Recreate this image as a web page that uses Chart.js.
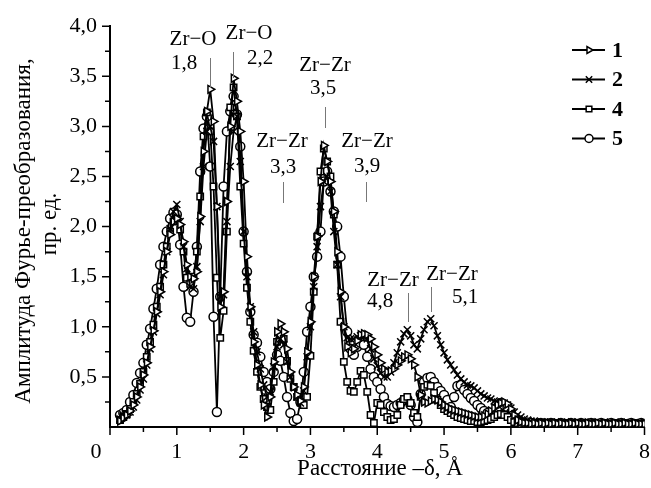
<!DOCTYPE html>
<html>
<head>
<meta charset="utf-8">
<script src="https://cdn.jsdelivr.net/npm/chart.js@4.4.1/dist/chart.umd.min.js"></script>
<style>
  body { margin: 0; background: #fff; }
  canvas { display: block; }
</style>
</head>
<body>
<canvas id="rdfChart" width="651" height="488"></canvas>
<script>
// distance, Å
const distance = [
  0.15, 0.2, 0.25, 0.3, 0.35, 0.4, 0.45, 0.5, 0.55, 0.6, 0.65, 0.7, 0.75, 0.8, 0.85, 0.9, 0.95,
  1.0, 1.05, 1.1, 1.15, 1.2, 1.25, 1.3, 1.35, 1.4, 1.45, 1.5, 1.55, 1.6, 1.65, 1.7, 1.75, 1.8, 1.85, 1.9, 1.95,
  2.0, 2.05, 2.1, 2.15, 2.2, 2.25, 2.3, 2.35, 2.4, 2.45, 2.5, 2.55, 2.6, 2.65, 2.7, 2.75, 2.8, 2.85, 2.9, 2.95,
  3.0, 3.05, 3.1, 3.15, 3.2, 3.25, 3.3, 3.35, 3.4, 3.45, 3.5, 3.55, 3.6, 3.65, 3.7, 3.75, 3.8, 3.85, 3.9, 3.95,
  4.0, 4.05, 4.1, 4.15, 4.2, 4.25, 4.3, 4.35, 4.4, 4.45, 4.5, 4.55, 4.6, 4.65, 4.7, 4.75, 4.8, 4.85, 4.9, 4.95,
  5.0, 5.05, 5.1, 5.15, 5.2, 5.25, 5.3, 5.35, 5.4, 5.45, 5.5, 5.55, 5.6, 5.65, 5.7, 5.75, 5.8, 5.85, 5.9, 5.95,
  6.0, 6.05, 6.1, 6.15, 6.2, 6.25, 6.3, 6.35, 6.4, 6.45, 6.5,
  6.55, 6.6, 6.65, 6.7, 6.75, 6.8, 6.85, 6.9, 6.95, 7.0, 7.05, 7.1, 7.15, 7.2, 7.25,
  7.3, 7.35, 7.4, 7.45, 7.5, 7.55, 7.6, 7.65, 7.7, 7.75, 7.8, 7.85, 7.9, 7.95, 8.0
];

// sample 1 (triangles)
const sample1 = [
  0.06, 0.09, 0.12, 0.16, 0.22, 0.30, 0.40, 0.52, 0.64, 0.80, 0.96, 1.15, 1.35, 1.55, 1.75, 1.92, 2.05,
  2.08, 2.02, 1.85, 1.62, 1.50, 1.48, 1.55, 2.10, 2.75, 3.15, 3.37, 3.05, 2.20, 1.20, 1.35, 2.25, 3.00, 3.48, 3.25, 2.95,
  2.45, 1.70, 1.20, 0.85, 0.62, 0.42, 0.22, 0.10, 0.30, 0.65, 0.95, 1.03, 0.95, 0.78, 0.55, 0.40, 0.32, 0.26, 0.40, 0.75,
  1.05, 1.50, 1.90, 2.45, 2.81, 2.65, 2.45, 2.15, 1.75, 1.35, 1.00, 0.80, 0.74, 0.78, 0.86, 0.92, 0.93, 0.92, 0.88, 0.80,
  0.72, 0.64, 0.58, 0.55, 0.56, 0.58, 0.62, 0.66, 0.70, 0.72, 0.68, 0.62, 0.50, 0.32, 0.25, 0.24, 0.26, 0.28, 0.27, 0.25,
  0.22, 0.20, 0.18, 0.17, 0.16, 0.15, 0.14, 0.13, 0.12, 0.11, 0.10, 0.10, 0.11, 0.13, 0.16, 0.19, 0.22, 0.24, 0.25, 0.23,
  0.18, 0.12, 0.07, 0.05, 0.04, 0.04, 0.03, 0.04, 0.03, 0.04, 0.03,
  0.04, 0.03, 0.04, 0.03, 0.04, 0.03, 0.03, 0.04, 0.03, 0.04, 0.03, 0.03, 0.04, 0.03, 0.03,
  0.04, 0.03, 0.04, 0.03, 0.03, 0.04, 0.03, 0.03, 0.04, 0.03, 0.03, 0.04, 0.03, 0.03, 0.03
];

// sample 2 (crosses)
const sample2 = [
  0.08, 0.12, 0.12, 0.15, 0.20, 0.27, 0.37, 0.48, 0.62, 0.78, 0.95, 1.13, 1.32, 1.52, 1.75, 1.98, 2.15,
  2.22, 2.05, 1.80, 1.58, 1.40, 1.38, 1.60, 2.05, 2.60, 2.95, 3.00, 2.85, 2.20, 1.30, 1.32, 2.05, 2.60, 2.95, 3.10, 2.65,
  1.95, 1.50, 1.20, 0.95, 0.75, 0.58, 0.42, 0.30, 0.35, 0.60, 0.80, 0.88, 0.82, 0.65, 0.50, 0.40, 0.30, 0.24, 0.36, 0.70,
  1.00, 1.40, 1.80, 2.20, 2.45, 2.50, 2.35, 1.95, 1.62, 1.30, 1.00, 0.89, 0.88, 0.88, 0.90, 0.91, 0.90, 0.88, 0.78, 0.68,
  0.61, 0.54, 0.50, 0.50, 0.55, 0.64, 0.74, 0.85, 0.93, 0.97, 0.91, 0.82, 0.78, 0.88, 0.97, 1.05, 1.08, 1.01, 0.91, 0.82,
  0.74, 0.67, 0.62, 0.57, 0.52, 0.48, 0.45, 0.42, 0.41, 0.39, 0.36, 0.33, 0.31, 0.29, 0.28, 0.26, 0.25, 0.24, 0.24, 0.22,
  0.19, 0.15, 0.12, 0.10, 0.08, 0.07, 0.06, 0.06, 0.05, 0.05, 0.05,
  0.05, 0.05, 0.04, 0.05, 0.04, 0.04, 0.05, 0.04, 0.04, 0.05, 0.04, 0.04, 0.04, 0.05, 0.04,
  0.04, 0.04, 0.05, 0.04, 0.04, 0.04, 0.04, 0.05, 0.04, 0.04, 0.04, 0.04, 0.04, 0.04, 0.04
];

// sample 4 (squares)
const sample4 = [
  0.07, 0.10, 0.13, 0.18, 0.25, 0.33, 0.43, 0.55, 0.70, 0.85, 1.02, 1.20, 1.40, 1.62, 1.80, 1.95, 2.05,
  2.08, 1.97, 1.75, 1.49, 1.43, 1.50, 1.75, 2.30, 2.90, 3.14, 2.95, 2.40, 1.49, 0.89, 1.16, 1.95, 3.19, 3.39, 3.10, 2.40,
  1.83, 1.39, 1.05, 0.76, 0.55, 0.40, 0.28, 0.20, 0.17, 0.45, 0.85, 0.92, 0.88, 0.66, 0.48, 0.40, 0.30, 0.25, 0.22, 0.30,
  0.71, 1.35, 1.90, 2.55, 2.78, 2.65, 2.50, 2.12, 1.62, 1.05, 0.65, 0.45, 0.36, 0.35, 0.45, 0.56, 0.52, 0.35, 0.12, 0.04,
  0.24, 0.22, 0.15, 0.10, 0.07, 0.08, 0.12, 0.22, 0.28, 0.30, 0.24, 0.14, 0.10, 0.30, 0.40, 0.42, 0.41, 0.34, 0.27, 0.22,
  0.18, 0.16, 0.14, 0.12, 0.10, 0.09, 0.08, 0.07, 0.06, 0.06, 0.05, 0.05, 0.06, 0.07, 0.08, 0.10, 0.12, 0.13, 0.12, 0.10,
  0.07, 0.05, 0.04, 0.03, 0.03, 0.03, 0.03, 0.03, 0.03, 0.03, 0.03,
  0.03, 0.03, 0.03, 0.03, 0.03, 0.03, 0.03, 0.03, 0.03, 0.03, 0.03, 0.03, 0.03, 0.03, 0.03,
  0.03, 0.03, 0.03, 0.03, 0.03, 0.03, 0.03, 0.03, 0.03, 0.03, 0.03, 0.03, 0.03, 0.03, 0.03
];

// sample 5 (circles)
const sample5 = [
  0.12, 0.14, 0.17, 0.25, 0.32, 0.44, 0.54, 0.64, 0.82, 0.98, 1.18, 1.38, 1.62, 1.80, 1.95, 2.08, 2.14,
  2.12, 1.82, 1.40, 1.09, 1.05, 1.35, 1.80, 2.55, 2.98, 3.10, 2.60, 1.10, 0.15, 1.30, 2.40, 2.95, 3.15, 3.30, 3.12, 2.80,
  1.95, 1.55, 1.15, 0.92, 0.84, 0.70, 0.55, 0.45, 0.38, 0.55, 0.72, 0.66, 0.50, 0.30, 0.14, 0.06, 0.08, 0.25, 0.55, 0.95,
  1.20, 1.50, 1.70, 1.95, 2.45, 2.55, 2.35, 2.15, 2.00, 1.70, 1.30, 0.95, 0.78, 0.72, 0.80, 0.84, 0.82, 0.70, 0.58, 0.50,
  0.45, 0.38, 0.30, 0.23, 0.21, 0.20, 0.22, 0.24, 0.27, 0.28, 0.22, 0.10, 0.05, 0.33, 0.45, 0.49, 0.50, 0.45, 0.40, 0.36,
  0.32, 0.27, 0.20, 0.30, 0.41, 0.42, 0.37, 0.33, 0.29, 0.26, 0.22, 0.19, 0.16, 0.14, 0.12, 0.14, 0.20, 0.24, 0.22, 0.20,
  0.14, 0.08, 0.05, 0.04, 0.04, 0.03, 0.04, 0.03, 0.03, 0.04, 0.03,
  0.03, 0.04, 0.03, 0.03, 0.04, 0.03, 0.03, 0.04, 0.03, 0.03, 0.04, 0.03, 0.03, 0.04, 0.03,
  0.03, 0.04, 0.03, 0.03, 0.04, 0.03, 0.03, 0.04, 0.03, 0.03, 0.04, 0.03, 0.03, 0.04, 0.03
];

const seriesNames = ["1", "2", "4", "5"];
const xTickLabels = ["0", "1", "2", "3", "4", "5", "6", "7", "8"];

const peakNotes = [
  { l1: "Zr−O", l2: "1,8" },
  { l1: "Zr−O", l2: "2,2" },
  { l1: "Zr−Zr", l2: "3,5" },
  { l1: "Zr−Zr", l2: "3,3" },
  { l1: "Zr−Zr", l2: "3,9" },
  { l1: "Zr−Zr", l2: "4,8" },
  { l1: "Zr−Zr", l2: "5,1" }
];

const serif = "'Liberation Serif', 'Times New Roman', serif";

function toPoints(arr) {
  return arr.map((v, i) => ({ x: distance[i], y: v }));
}

const styles = [
  { pointStyle: "triangle", rotation: 90, radius: 4.5 },
  { pointStyle: "crossRot", rotation: 0, radius: 5 },
  { pointStyle: "rect", rotation: 0, radius: 4.5 },
  { pointStyle: "circle", rotation: 0, radius: 4.5 }
];

const datasets = [sample1, sample2, sample4, sample5].map((arr, i) => ({
  label: seriesNames[i],
  data: toPoints(arr),
  borderColor: "#000",
  borderWidth: 1.8,
  backgroundColor: "#fff",
  pointBorderColor: "#000",
  pointBackgroundColor: "#fff",
  pointBorderWidth: 1.5,
  pointStyle: styles[i].pointStyle,
  pointRotation: styles[i].rotation,
  pointRadius: styles[i].radius,
  tension: 0
}));

// axis ticks, texts, notes and legend
const decor = {
  id: "decor",
  afterDraw(chart) {
    const { ctx, scales: { x, y } } = chart;
    ctx.save();
    ctx.strokeStyle = "#000";
    ctx.lineWidth = 1.5;
    ctx.beginPath();
    for (let i = 0; i <= 16; i++) {
      const px = x.getPixelForValue(i / 2);
      ctx.moveTo(px, y.bottom);
      ctx.lineTo(px, y.bottom + (i % 2 === 0 ? 8 : 5));
    }
    for (let i = 1; i <= 16; i++) {
      const py = y.getPixelForValue(i / 4);
      ctx.moveTo(x.left, py);
      ctx.lineTo(x.left - (i % 2 === 0 ? 8 : 5), py);
    }
    ctx.stroke();

    // x tick labels
    ctx.fillStyle = "#000";
    ctx.font = "22px " + serif;
    ctx.textAlign = "center";
    ctx.textBaseline = "middle";
    xTickLabels.forEach((t, i) => {
      const px = i === 0 ? 96 : x.getPixelForValue(i);
      ctx.fillText(t, px, 452);
    });

    // axis titles
    ctx.font = "23px " + serif;
    ctx.fillText("Расстояние –δ, Å", 380, 469);
    ctx.save();
    ctx.translate(24, 231);
    ctx.rotate(-Math.PI / 2);
    ctx.fillText("Амплитуда Фурье-преобразования,", 0, 0);
    ctx.restore();
    ctx.save();
    ctx.translate(50, 224);
    ctx.rotate(-Math.PI / 2);
    ctx.fillText("пр. ед.", 0, 0);
    ctx.restore();

    // peak notes
    const pos = [
      { a: [193, 39], b: [184, 63], line: [210, 58, 88] },
      { a: [249, 33], b: [260, 58], line: [233, 52, 78] },
      { a: [325, 65], b: [323, 88], line: [325, 107, 128] },
      { a: [282, 141], b: [283, 167], line: [283, 182, 203] },
      { a: [367, 141], b: [367, 166], line: [366, 182, 202] },
      { a: [393, 280], b: [380, 301], line: [408, 293, 322] },
      { a: [452, 274], b: [465, 297], line: [431, 287, 312] }
    ];
    ctx.font = "21px " + serif;
    peakNotes.forEach((n, i) => {
      const p = pos[i];
      ctx.fillText(n.l1, p.a[0], p.a[1]);
      ctx.fillText(n.l2, p.b[0], p.b[1]);
      ctx.strokeStyle = "#777";
      ctx.lineWidth = 1;
      ctx.beginPath();
      ctx.moveTo(p.line[0] + 0.5, p.line[1]);
      ctx.lineTo(p.line[0] + 0.5, p.line[2]);
      ctx.stroke();
    });

    // legend
    chart.data.datasets.forEach((ds, i) => {
      const ly = 50 + i * 29.5;
      ctx.strokeStyle = "#000";
      ctx.lineWidth = 2;
      ctx.beginPath();
      ctx.moveTo(572, ly);
      ctx.lineTo(605, ly);
      ctx.stroke();
      ctx.fillStyle = "#fff";
      ctx.lineWidth = 1.5;
      Chart.helpers.drawPoint(ctx, {
        pointStyle: ds.pointStyle,
        rotation: ds.pointRotation,
        radius: ds.pointRadius - 0.5,
        borderWidth: 1.5
      }, 589, ly);
      ctx.fillStyle = "#000";
      ctx.font = "bold 22px " + serif;
      ctx.textAlign = "left";
      ctx.fillText(ds.label, 612, ly + 1);
      ctx.textAlign = "center";
    });
    ctx.restore();
  }
};

new Chart(document.getElementById("rdfChart").getContext("2d"), {
  type: "line",
  data: { datasets: datasets },
  options: {
    responsive: false,
    animation: false,
    layout: { padding: { left: 0, right: 6, top: 24, bottom: 0 } },
    plugins: {
      legend: { display: false },
      tooltip: { enabled: false }
    },
    scales: {
      x: {
        type: "linear",
        min: 0,
        max: 8,
        afterFit: (scale) => { scale.height = 61; },
        grid: { display: false, drawTicks: false },
        border: { display: true, color: "#000", width: 2 },
        ticks: { display: false, stepSize: 1 }
      },
      y: {
        min: 0,
        max: 4,
        afterFit: (scale) => { scale.width = 110; },
        grid: { display: false, drawTicks: false },
        border: { display: true, color: "#000", width: 2 },
        ticks: {
          stepSize: 0.5,
          padding: 13,
          color: "#000",
          font: { family: serif, size: 22 },
          callback: (v) => (v === 0 ? "" : v.toFixed(1).replace(".", ","))
        }
      }
    }
  },
  plugins: [decor]
});
</script>
</body>
</html>
